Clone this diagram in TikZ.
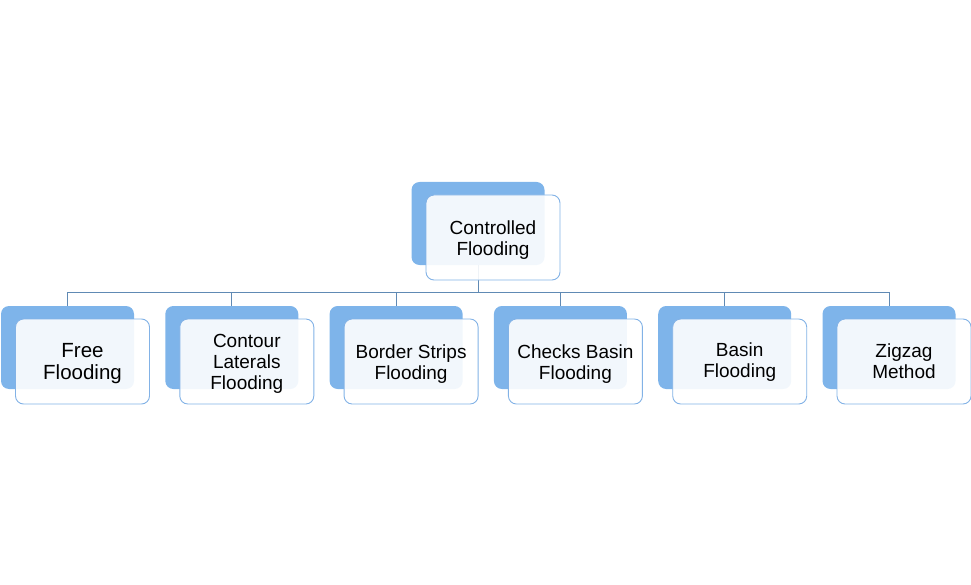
\documentclass[tikz,border=0pt]{standalone}
\usepackage{fontspec}
\setmainfont{Liberation Sans}
\definecolor{backblue}{RGB}{126,180,234}
\definecolor{frontline}{RGB}{130,178,230}
\definecolor{connblue}{RGB}{96,138,180}
\tikzset{
  backbox/.style={draw=none, fill=backblue, rounded corners=8pt, minimum width=133pt, minimum height=83pt, inner sep=0pt},
  frontbox/.style={draw=frontline, line width=0.9pt, fill=white, fill opacity=0.9, rounded corners=8pt, minimum width=134pt, minimum height=85pt, inner sep=0pt},
  boxtext/.style={inner sep=0pt, align=center, text=black, font=\fontsize{19}{20.8}\selectfont, yshift=-2.2pt},
  conn/.style={draw=connblue, line width=1pt},
}
\begin{document}
\begin{tikzpicture}[x=1pt,y=-1pt]
\useasboundingbox (0,0) rectangle (971,585);
% back boxes
\node[backbox] (topb) at (478,223.5) {};
\foreach \i in {1,...,6}{
  \node[backbox] (c\i b) at ({67.5+164.3*(\i-1)},347.5) {};
}
% connectors
\foreach \i in {1,...,6}{
  \draw[conn] (topb.south) -- ++(0,27) -| (c\i b.north);
}
% front boxes
\node[frontbox] (topf) at (493,237.5) {};
\foreach \i in {1,...,6}{
  \node[frontbox] (c\i f) at ({82.5+164.3*(\i-1)},361.5) {};
}
% texts
\node[boxtext] (topt) at (topf.center) {Controlled\\Flooding};
\node[boxtext, font=\fontsize{20.5}{22}\selectfont] (c1t) at (c1f.center) {Free\\Flooding};
\node[boxtext] (c2t) at (c2f.center) {Contour\\Laterals\\Flooding};
\node[boxtext] (c3t) at (c3f.center) {Border Strips\\Flooding};
\node[boxtext] (c4t) at (c4f.center) {Checks Basin\\Flooding};
\node[boxtext, yshift=1.5pt] (c5t) at (c5f.center) {Basin\\Flooding};
\node[boxtext, yshift=2.5pt] (c6t) at (c6f.center) {Zigzag\\Method};
\end{tikzpicture}
\end{document}
